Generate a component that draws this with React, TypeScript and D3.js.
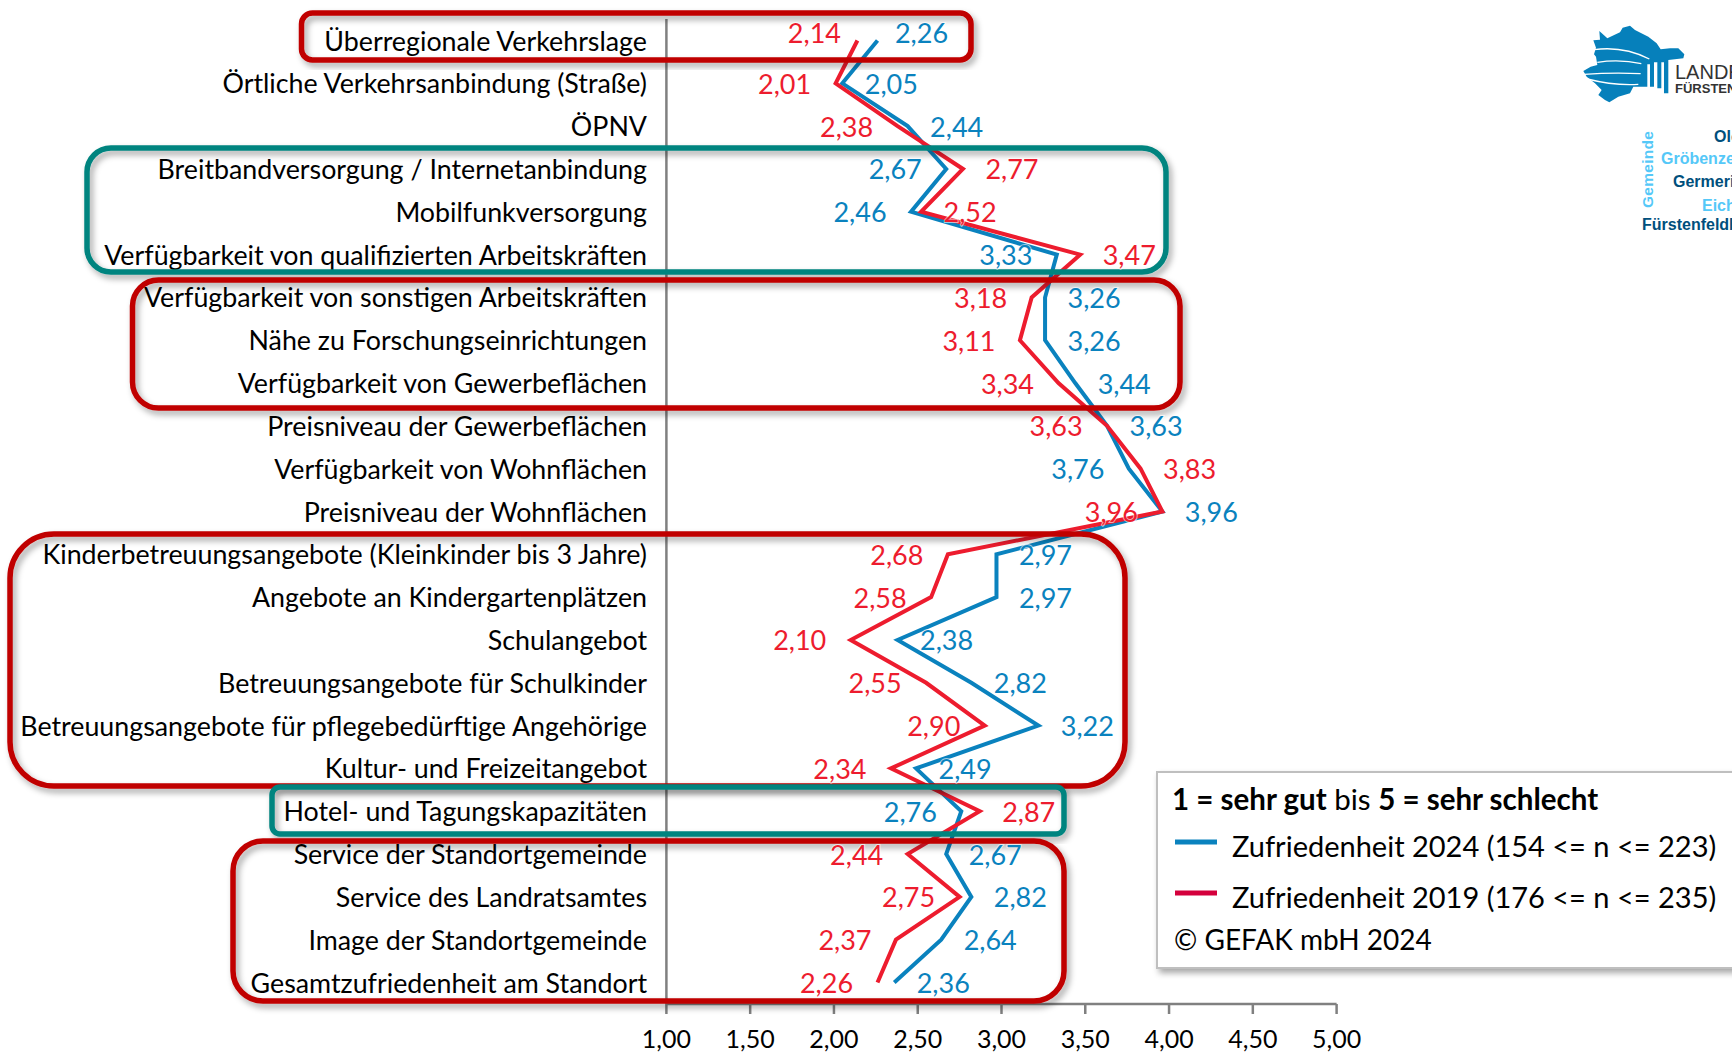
import React from "react";
import * as d3 from "d3";

const categories = [
  "Überregionale Verkehrslage",
  "Örtliche Verkehrsanbindung (Straße)",
  "ÖPNV",
  "Breitbandversorgung / Internetanbindung",
  "Mobilfunkversorgung",
  "Verfügbarkeit von qualifizierten Arbeitskräften",
  "Verfügbarkeit von sonstigen Arbeitskräften",
  "Nähe zu Forschungseinrichtungen",
  "Verfügbarkeit von Gewerbeflächen",
  "Preisniveau der Gewerbeflächen",
  "Verfügbarkeit von Wohnflächen",
  "Preisniveau der Wohnflächen",
  "Kinderbetreuungsangebote (Kleinkinder bis 3 Jahre)",
  "Angebote an Kindergartenplätzen",
  "Schulangebot",
  "Betreuungsangebote für Schulkinder",
  "Betreuungsangebote für pflegebedürftige Angehörige",
  "Kultur- und Freizeitangebot",
  "Hotel- und Tagungskapazitäten",
  "Service der Standortgemeinde",
  "Service des Landratsamtes",
  "Image der Standortgemeinde",
  "Gesamtzufriedenheit am Standort",
];
const values2024 = [2.26, 2.05, 2.44, 2.67, 2.46, 3.33, 3.26, 3.26, 3.44, 3.63, 3.76, 3.96, 2.97, 2.97, 2.38, 2.82, 3.22, 2.49, 2.76, 2.67, 2.82, 2.64, 2.36];
const values2019 = [2.14, 2.01, 2.38, 2.77, 2.52, 3.47, 3.18, 3.11, 3.34, 3.63, 3.83, 3.96, 2.68, 2.58, 2.1, 2.55, 2.9, 2.34, 2.87, 2.44, 2.75, 2.37, 2.26];
const side2024 = [1, 1, 1, -1, -1, -1, 1, 1, 1, 1, -1, 1, 1, 1, 1, 1, 1, 1, -1, 1, 1, 1, 1];
const side2019 = [-1, -1, -1, 1, 1, 1, -1, -1, -1, -1, 1, -1, -1, -1, -1, -1, -1, -1, 1, -1, -1, -1, -1];
const xTicks = [1, 1.5, 2, 2.5, 3, 3.5, 4, 4.5, 5];

const BLUE = "#0a82be";
const RED = "#ed1c2e";
const BOX_RED = "#c00000";
const BOX_TEAL = "#00847f";
const FONT = "Lato, Carlito, sans-serif";

const frames = [
  { x: 301.5, y: 13, w: 669.5, h: 47, r: 11, c: BOX_RED },
  { x: 87, y: 148, w: 1079, h: 124, r: 24, c: BOX_TEAL },
  { x: 132.5, y: 280, w: 1047.5, h: 128, r: 26, c: BOX_RED },
  { x: 10, y: 534, w: 1115, h: 252, r: 44, c: BOX_RED },
  { x: 272, y: 787, w: 792, h: 47, r: 8, c: BOX_TEAL },
  { x: 233, y: 841, w: 831, h: 160, r: 30, c: BOX_RED },
];

const fmt = (v: number) => v.toFixed(2).replace(".", ",");

export default function App() {
  const x = d3.scaleLinear().domain([1, 5]).range([666.4, 1336.6]);
  const y = d3.scalePoint<number>().domain(d3.range(categories.length)).range([40.5, 982.5]);
  const line = d3.line<number>().x((v) => x(v)).y((_, i) => y(i) as number);
  const labelX = (v: number, s: number, i: number) =>
    x(v) + (s > 0 ? (i === 0 ? 44 : 49) : i === 0 ? -43 : -51);
  const labels = (vals: number[], sides: number[], c: string) =>
    vals.map((v, i) => (
      <text
        key={i}
        x={labelX(v, sides[i], i)}
        y={(y(i) as number) + (i === 0 ? 2 : 10.5)}
        textAnchor="middle"
        fontSize={27}
        fill={c}
        stroke="#fff"
        strokeWidth={2}
        strokeOpacity={0.6}
        paintOrder="stroke"
        fontFamily={FONT}
      >
        {fmt(v)}
      </text>
    ));

  return (
    <svg
      width={1732}
      height={1052}
      viewBox="0 0 1732 1052"
      style={{ position: "absolute", left: 0, top: 0, background: "#fff" }}
    >
      <defs>
        <filter id="sh" x="-5%" y="-20%" width="110%" height="140%">
          <feDropShadow dx="3" dy="4" stdDeviation="3" floodColor="#000" floodOpacity="0.35" />
        </filter>
      </defs>

      {/* axes */}
      <line x1={x(1)} x2={x(1)} y1={19} y2={1004} stroke="#808080" strokeWidth={2.5} />
      <line x1={x(1)} x2={x(5)} y1={1004} y2={1004} stroke="#808080" strokeWidth={2.5} />
      {xTicks.map((t) => (
        <g key={t}>
          <line x1={x(t)} x2={x(t)} y1={1004} y2={1014} stroke="#808080" strokeWidth={2.5} />
          <text x={x(t)} y={1047.5} textAnchor="middle" fontSize={25} fontFamily={FONT} fill="#000">
            {fmt(t)}
          </text>
        </g>
      ))}

      {/* category labels */}
      {categories.map((c, i) => (
        <text key={c} x={647} y={(y(i) as number) + 10} textAnchor="end" fontSize={26.8} fontFamily={FONT} fill="#000">
          {c}
        </text>
      ))}

      {/* series */}
      <path d={line(values2024) as string} fill="none" stroke={BLUE} strokeWidth={4} strokeLinejoin="miter" />
      <path d={line(values2019) as string} fill="none" stroke={RED} strokeWidth={4} strokeLinejoin="miter" />

      {/* group frames */}
      {frames.map((f, i) => (
        <rect key={i} x={f.x} y={f.y} width={f.w} height={f.h} rx={f.r} ry={f.r} fill="none" stroke={f.c} strokeWidth={5.5} filter="url(#sh)" />
      ))}

      {/* value labels */}
      {labels(values2024, side2024, BLUE)}
      {labels(values2019, side2019, RED)}

      {/* legend */}
      <rect x={1157} y={772} width={600} height={196} fill="#fff" stroke="#bfbfbf" strokeWidth={2} filter="url(#sh)" />
      <text x={1172} y={810} fontSize={29.5} fontFamily={FONT} fill="#000">
        <tspan fontWeight={700}>1 = sehr gut</tspan> bis <tspan fontWeight={700}>5 = sehr schlecht</tspan>
      </text>
      <line x1={1175} x2={1217} y1={842} y2={842} stroke={BLUE} strokeWidth={5} />
      <text x={1232} y={857} fontSize={29} fontFamily={FONT} fill="#000">Zufriedenheit 2024 (154 &lt;= n &lt;= 223)</text>
      <line x1={1175} x2={1217} y1={893} y2={893} stroke="#d4003c" strokeWidth={5} />
      <text x={1232} y={908} fontSize={29} fontFamily={FONT} fill="#000">Zufriedenheit 2019 (176 &lt;= n &lt;= 235)</text>
      <text x={1174} y={950} fontSize={28} fontFamily={FONT} fill="#000">© GEFAK mbH 2024</text>

      {/* logo */}
      <g transform="translate(1570,15) scale(0.3333)">
        <path
          fill="#0680bb"
          d="M40,168 L62,155 L82,150 L78,125 L72,118 L78,98 L70,76 L90,74 L88,48 L112,70 L150,52 L158,38 L180,32 L195,45 L235,65 L260,85 L272,103 L300,100 L325,100 L343,118 L340,130 L295,135 L295,235 L282,235 L282,142 L274,142 L274,220 L262,220 L262,142 L252,142 L252,215 L240,215 L240,148 L232,148 L232,215 L190,215 L180,235 L145,245 L118,262 L105,255 L85,240 L95,225 L75,205 L50,185 Z"
        />
        <path d="M72,104 Q160,92 238,132" fill="none" stroke="#fff" strokeWidth={4} />
        <path d="M82,142 Q150,132 214,146" fill="none" stroke="#fff" strokeWidth={4} />
        <path d="M42,178 Q130,172 212,176" fill="none" stroke="#fff" strokeWidth={4} />
        <path d="M52,192 Q130,212 205,208" fill="none" stroke="#fff" strokeWidth={4} />
      </g>
      <text x={1675} y={79} fontSize={20} fontFamily="Liberation Sans" fill="#333">LANDRATSAMT</text>
      <text x={1675} y={93} fontSize={13} fontWeight={700} fontFamily="Liberation Sans" fill="#333">FÜRSTENFELDBRUCK</text>
      <text transform="translate(1653,208) rotate(-90)" fontSize={15.5} fontWeight={700} fontFamily="Liberation Sans" fill="#55c8f8" textLength={77}>Gemeinde</text>
      <text x={1714} y={142} fontSize={16} fontWeight={700} fontFamily="Liberation Sans" fill="#004f7c">Olching</text>
      <text x={1661} y={164} fontSize={16} fontWeight={700} fontFamily="Liberation Sans" fill="#55c8f8">Gröbenzell</text>
      <text x={1673} y={187} fontSize={16} fontWeight={700} fontFamily="Liberation Sans" fill="#004f7c">Germering</text>
      <text x={1702} y={211} fontSize={16} fontWeight={700} fontFamily="Liberation Sans" fill="#55c8f8">Eichenau</text>
      <text x={1642} y={230} fontSize={16} fontWeight={700} fontFamily="Liberation Sans" fill="#004f7c">Fürstenfeldbruck</text>
    </svg>
  );
}
